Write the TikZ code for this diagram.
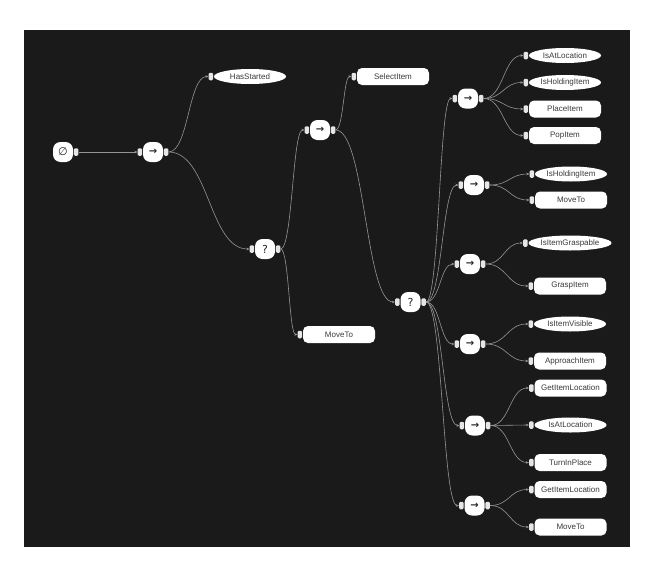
\documentclass[tikz,border=0pt]{standalone}
\usepackage{fontspec}
\setmainfont{Liberation Sans}
\newfontfamily\symfont{DejaVu Sans}
\usetikzlibrary{shapes.geometric,arrows.meta,positioning,calc}
\definecolor{bg}{HTML}{1A1A1A}
\definecolor{edgecol}{HTML}{959595}
\definecolor{portcol}{HTML}{E6E6E6}
\definecolor{txt}{HTML}{3A3A3A}
\tikzset{
  ctlbox/.style={fill=white, rounded corners=7.5pt, minimum width=20pt, minimum height=20pt, inner sep=0pt, text=black!85, font=\symfont\fontsize{11}{11}\selectfont},
  leafbox/.style={fill=white, rounded corners=5pt, minimum width=72pt, minimum height=17pt, inner sep=0pt, text=txt, font=\fontsize{8}{9}\selectfont},
  leafell/.style={ellipse, fill=white, minimum width=72pt, minimum height=15pt, inner sep=0pt, text=txt, font=\fontsize{8}{9}\selectfont},
  portbox/.style={fill=portcol, rounded corners=1.3pt, minimum width=4.5pt, minimum height=7.5pt, inner sep=0pt},
  edge/.style={draw=edgecol, line width=0.6pt, -{Stealth[length=3pt,width=2.6pt]}}
}
\newcommand\ctl[4]{%
  \node[ctlbox] (#1) at (#2,#3) {#4};
  \node[portbox, left=0.5pt of #1] (#1-l) {};
  \node[portbox, right=0.5pt of #1] (#1-r) {};}
\newcommand\leaf[5]{%
  \node[#4] (#1) at (#2,#3) {#5};
  \node[portbox, left=0.5pt of #1] (#1-l) {};}
\newcommand\conn[2]{%
  \draw[edge] let \p1=(#1-r.east), \p2=(#2-l.west) in
    (\p1) .. controls ({(\x1+\x2)/2},\y1) and ({(\x1+\x2)/2},\y2) .. (\p2);}
\newcommand\seqsym{\textbf{\fontsize{10}{10}\selectfont →}}
\begin{document}
\begin{tikzpicture}[x=1pt,y=-1pt]
\useasboundingbox (0,0) rectangle (658,570);
\fill[white] (0,0) rectangle (658,570);
\fill[bg] (24,30) rectangle (630,547);
% root
\node[ctlbox] (root) at (63,152) {∅};
\node[portbox, right=0.5pt of root] (root-r) {};
% level 1
\ctl{seqA}{153}{152}{\seqsym}
\leaf{has}{250}{76.5}{leafell}{HasStarted}
\ctl{fbA}{265}{249}{?}
\ctl{seqB}{320}{130}{\seqsym}
\leaf{sel}{393}{76.5}{leafbox}{SelectItem}
\leaf{mvA}{339}{334.5}{leafbox}{MoveTo}
\ctl{fbB}{410.5}{302}{?}
% sequences under fbB
\ctl{s3}{468}{98.5}{\seqsym}
\ctl{s4}{474}{185}{\seqsym}
\ctl{s5}{470}{264}{\seqsym}
\ctl{s6}{470}{344}{\seqsym}
\ctl{s7}{475}{425.5}{\seqsym}
\ctl{s8}{474.5}{505.5}{\seqsym}
% leaves
\leaf{l31}{565}{55.5}{leafell}{IsAtLocation}
\leaf{l32}{565}{82.5}{leafell}{IsHoldingItem}
\leaf{l33}{565}{109}{leafbox}{PlaceItem}
\leaf{l34}{565}{135.5}{leafbox}{PopItem}
\leaf{l41}{571}{174}{leafell}{IsHoldingItem}
\leaf{l42}{571}{200}{leafbox}{MoveTo}
\leaf{l51}{570}{243}{leafell}{IsItemGraspable}
\leaf{l52}{570}{286}{leafbox}{GraspItem}
\leaf{l61}{570}{324}{leafell}{IsItemVisible}
\leaf{l62}{570}{361}{leafbox}{ApproachItem}
\leaf{l71}{570.5}{388}{leafbox}{GetItemLocation}
\leaf{l72}{570.5}{425}{leafell}{IsAtLocation}
\leaf{l73}{570.5}{462.5}{leafbox}{TurnInPlace}
\leaf{l81}{570.5}{489.5}{leafbox}{GetItemLocation}
\leaf{l82}{570.5}{527}{leafbox}{MoveTo}
% connectors
\conn{root}{seqA}
\conn{seqA}{has}
\conn{seqA}{fbA}
\conn{fbA}{seqB}
\conn{fbA}{mvA}
\conn{seqB}{sel}
\conn{seqB}{fbB}
\conn{fbB}{s3}
\conn{fbB}{s4}
\conn{fbB}{s5}
\conn{fbB}{s6}
\conn{fbB}{s7}
\conn{fbB}{s8}
\conn{s3}{l31}
\conn{s3}{l32}
\conn{s3}{l33}
\conn{s3}{l34}
\conn{s4}{l41}
\conn{s4}{l42}
\conn{s5}{l51}
\conn{s5}{l52}
\conn{s6}{l61}
\conn{s6}{l62}
\conn{s7}{l71}
\conn{s7}{l72}
\conn{s7}{l73}
\conn{s8}{l81}
\conn{s8}{l82}
\end{tikzpicture}
\end{document}
